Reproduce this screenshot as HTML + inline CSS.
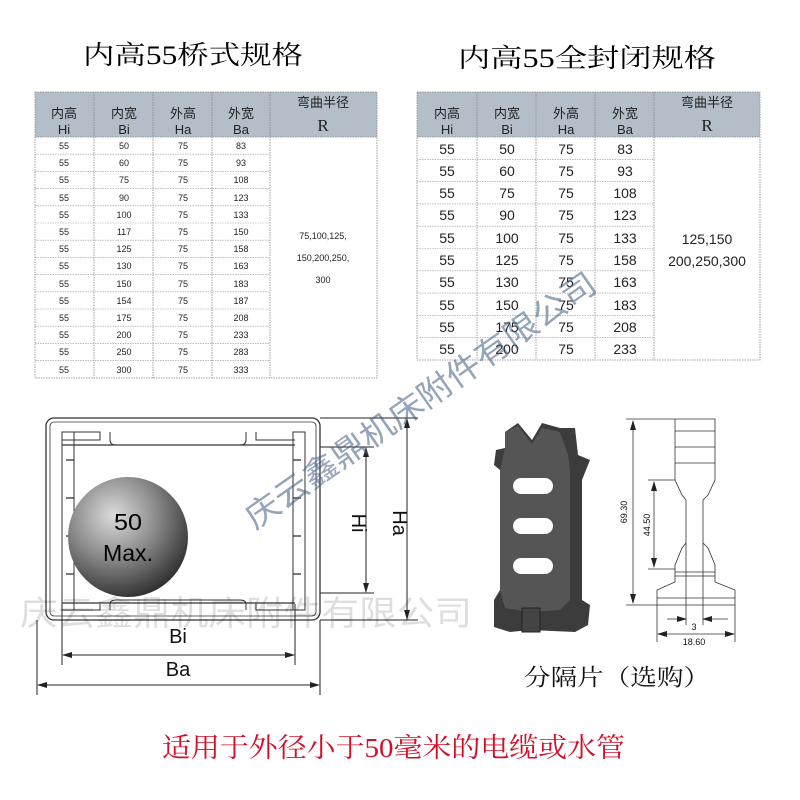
<!DOCTYPE html>
<html><head><meta charset="utf-8"><style>
html,body{margin:0;padding:0;background:#fff}
svg{display:block}
.t{font-family:"Liberation Serif","Noto Serif CJK SC",serif}
.s{font-family:"Liberation Sans","Noto Sans CJK SC",sans-serif}
</style></head><body>
<svg width="800" height="800" viewBox="0 0 800 800" xmlns="http://www.w3.org/2000/svg">
<rect width="800" height="800" fill="#fff"/>
<text class="t" x="83" y="64" font-size="26" textLength="220" lengthAdjust="spacingAndGlyphs">内高55桥式规格</text>
<text class="t" x="458" y="67" font-size="26" textLength="258" lengthAdjust="spacingAndGlyphs">内高55全封闭规格</text>

<g class="s" fill="#222">
<rect x="35" y="92" width="342" height="45" fill="#b3bec9"/>
<g stroke="#888" stroke-width="0.8" stroke-dasharray="1.5,1" fill="none">
<rect x="35" y="92" width="342" height="286"/>
<line x1="94" y1="92" x2="94" y2="378"/><line x1="153" y1="92" x2="153" y2="378"/>
<line x1="212" y1="92" x2="212" y2="378"/><line x1="270" y1="92" x2="270" y2="378"/>
<line x1="35" y1="137" x2="377" y2="137"/>
</g>
<g stroke="#999" stroke-width="0.6" stroke-dasharray="1.5,1">
<line x1="35" y1="154.2" x2="270" y2="154.2"/><line x1="35" y1="171.4" x2="270" y2="171.4"/><line x1="35" y1="188.6" x2="270" y2="188.6"/><line x1="35" y1="205.8" x2="270" y2="205.8"/><line x1="35" y1="223" x2="270" y2="223"/><line x1="35" y1="240.2" x2="270" y2="240.2"/><line x1="35" y1="257.4" x2="270" y2="257.4"/><line x1="35" y1="274.6" x2="270" y2="274.6"/><line x1="35" y1="291.8" x2="270" y2="291.8"/><line x1="35" y1="309" x2="270" y2="309"/><line x1="35" y1="326.2" x2="270" y2="326.2"/><line x1="35" y1="343.4" x2="270" y2="343.4"/><line x1="35" y1="360.6" x2="270" y2="360.6"/>
</g>
<g font-size="13" text-anchor="middle">
<text x="64" y="118">内高</text><text x="64" y="134">Hi</text>
<text x="124" y="118">内宽</text><text x="124" y="134">Bi</text>
<text x="183" y="118">外高</text><text x="183" y="134">Ha</text>
<text x="241" y="118">外宽</text><text x="241" y="134">Ba</text>
<text x="323" y="107">弯曲半径</text>
<text x="323" y="131" class="t" font-size="17">R</text>
</g>
<g font-size="9" text-anchor="middle">
<text x="64" y="149">55</text><text x="124" y="149">50</text><text x="183" y="149">75</text><text x="241" y="149">83</text>
<text x="64" y="166">55</text><text x="124" y="166">60</text><text x="183" y="166">75</text><text x="241" y="166">93</text>
<text x="64" y="183">55</text><text x="124" y="183">75</text><text x="183" y="183">75</text><text x="241" y="183">108</text>
<text x="64" y="201">55</text><text x="124" y="201">90</text><text x="183" y="201">75</text><text x="241" y="201">123</text>
<text x="64" y="218">55</text><text x="124" y="218">100</text><text x="183" y="218">75</text><text x="241" y="218">133</text>
<text x="64" y="235">55</text><text x="124" y="235">117</text><text x="183" y="235">75</text><text x="241" y="235">150</text>
<text x="64" y="252">55</text><text x="124" y="252">125</text><text x="183" y="252">75</text><text x="241" y="252">158</text>
<text x="64" y="269">55</text><text x="124" y="269">130</text><text x="183" y="269">75</text><text x="241" y="269">163</text>
<text x="64" y="287">55</text><text x="124" y="287">150</text><text x="183" y="287">75</text><text x="241" y="287">183</text>
<text x="64" y="304">55</text><text x="124" y="304">154</text><text x="183" y="304">75</text><text x="241" y="304">187</text>
<text x="64" y="321">55</text><text x="124" y="321">175</text><text x="183" y="321">75</text><text x="241" y="321">208</text>
<text x="64" y="338">55</text><text x="124" y="338">200</text><text x="183" y="338">75</text><text x="241" y="338">233</text>
<text x="64" y="355">55</text><text x="124" y="355">250</text><text x="183" y="355">75</text><text x="241" y="355">283</text>
<text x="64" y="373">55</text><text x="124" y="373">300</text><text x="183" y="373">75</text><text x="241" y="373">333</text>
<text x="323" y="239">75,100,125,</text>
<text x="323" y="261">150,200,250,</text>
<text x="323" y="283">300</text>
</g>
</g>

<g class="s" fill="#222">
<rect x="417" y="92" width="343" height="45" fill="#b3bec9"/>
<g stroke="#888" stroke-width="0.8" stroke-dasharray="1.5,1" fill="none">
<rect x="417" y="92" width="343" height="268"/>
<line x1="477" y1="92" x2="477" y2="360"/><line x1="536" y1="92" x2="536" y2="360"/>
<line x1="595" y1="92" x2="595" y2="360"/><line x1="654" y1="92" x2="654" y2="360"/>
<line x1="417" y1="137" x2="760" y2="137"/>
</g>
<g stroke="#999" stroke-width="0.6" stroke-dasharray="1.5,1">
<line x1="417" y1="159.3" x2="654" y2="159.3"/><line x1="417" y1="181.6" x2="654" y2="181.6"/><line x1="417" y1="203.9" x2="654" y2="203.9"/><line x1="417" y1="226.2" x2="654" y2="226.2"/><line x1="417" y1="248.5" x2="654" y2="248.5"/><line x1="417" y1="270.8" x2="654" y2="270.8"/><line x1="417" y1="293.1" x2="654" y2="293.1"/><line x1="417" y1="315.4" x2="654" y2="315.4"/><line x1="417" y1="337.7" x2="654" y2="337.7"/>
</g>
<g font-size="13" text-anchor="middle">
<text x="447" y="118">内高</text><text x="447" y="134">Hi</text>
<text x="507" y="118">内宽</text><text x="507" y="134">Bi</text>
<text x="566" y="118">外高</text><text x="566" y="134">Ha</text>
<text x="625" y="118">外宽</text><text x="625" y="134">Ba</text>
<text x="707" y="107">弯曲半径</text>
<text x="707" y="131" class="t" font-size="17">R</text>
</g>
<g font-size="14" text-anchor="middle">
<text x="447" y="154">55</text><text x="507" y="154">50</text><text x="566" y="154">75</text><text x="625" y="154">83</text>
<text x="447" y="176">55</text><text x="507" y="176">60</text><text x="566" y="176">75</text><text x="625" y="176">93</text>
<text x="447" y="198">55</text><text x="507" y="198">75</text><text x="566" y="198">75</text><text x="625" y="198">108</text>
<text x="447" y="220">55</text><text x="507" y="220">90</text><text x="566" y="220">75</text><text x="625" y="220">123</text>
<text x="447" y="243">55</text><text x="507" y="243">100</text><text x="566" y="243">75</text><text x="625" y="243">133</text>
<text x="447" y="265">55</text><text x="507" y="265">125</text><text x="566" y="265">75</text><text x="625" y="265">158</text>
<text x="447" y="287">55</text><text x="507" y="287">130</text><text x="566" y="287">75</text><text x="625" y="287">163</text>
<text x="447" y="310">55</text><text x="507" y="310">150</text><text x="566" y="310">75</text><text x="625" y="310">183</text>
<text x="447" y="332">55</text><text x="507" y="332">175</text><text x="566" y="332">75</text><text x="625" y="332">208</text>
<text x="447" y="354">55</text><text x="507" y="354">200</text><text x="566" y="354">75</text><text x="625" y="354">233</text>
<text x="707" y="244">125,150</text>
<text x="707" y="266">200,250,300</text>
</g>
</g>

<defs>
<radialGradient id="ball" cx="0.38" cy="0.32" r="0.72">
<stop offset="0" stop-color="#dcdcdc"/><stop offset="0.5" stop-color="#8a8a8a"/><stop offset="1" stop-color="#2e2e2e"/>
</radialGradient>
<marker id="ar" markerWidth="10" markerHeight="6" refX="9" refY="3" orient="auto" markerUnits="userSpaceOnUse"><path d="M0,0 L10,3 L0,6 z" fill="#222"/></marker>
<marker id="al" markerWidth="10" markerHeight="6" refX="1" refY="3" orient="auto" markerUnits="userSpaceOnUse"><path d="M10,0 L0,3 L10,6 z" fill="#222"/></marker>
</defs>
<g fill="none" stroke="#333" stroke-width="1.3">
<rect x="46" y="418" width="274" height="202" rx="8"/>
<rect x="50" y="422" width="266" height="194" rx="4" stroke-width="0.8"/>
<rect x="62" y="432" width="12" height="178" stroke-width="1"/>
<rect x="293" y="432" width="12" height="178" stroke-width="1"/>
<line x1="62" y1="445" x2="295" y2="445"/>
<line x1="62" y1="603" x2="295" y2="603"/>
<path d="M62,432 H100 V440 H62 M110,432 V440 Q110,445 116,445 H240 Q246,445 246,440 V432 M256,432 V440 H295" stroke-width="1"/>
<path d="M62,610 H100 V604 M110,610 V604 Q110,600 116,600 H240 Q246,600 246,604 V610 M256,604 V610 H295" stroke-width="1"/>
<line x1="66" y1="460" x2="74" y2="460"/><line x1="66" y1="498" x2="74" y2="498"/><line x1="66" y1="536" x2="74" y2="536"/><line x1="66" y1="574" x2="74" y2="574"/>
<line x1="293" y1="460" x2="301" y2="460"/><line x1="293" y1="498" x2="301" y2="498"/><line x1="293" y1="536" x2="301" y2="536"/><line x1="293" y1="574" x2="301" y2="574"/>
</g>
<circle cx="128" cy="537" r="60" fill="url(#ball)"/>
<text class="s" x="128" y="530" font-size="23" text-anchor="middle" fill="#000" textLength="28" lengthAdjust="spacingAndGlyphs">50</text>
<text class="s" x="128" y="561" font-size="23" text-anchor="middle" fill="#000" textLength="50" lengthAdjust="spacingAndGlyphs">Max.</text>
<g stroke="#222" stroke-width="1" fill="none">
<line x1="320" y1="418" x2="418" y2="418"/>
<line x1="320" y1="447" x2="374" y2="447"/>
<line x1="320" y1="593" x2="374" y2="593"/>
<line x1="320" y1="620" x2="418" y2="620"/>
<line x1="366" y1="448" x2="366" y2="592" marker-start="url(#al)" marker-end="url(#ar)"/>
<line x1="407" y1="419" x2="407" y2="619" marker-start="url(#al)" marker-end="url(#ar)"/>
<line x1="62" y1="604" x2="62" y2="665"/><line x1="295" y1="604" x2="295" y2="665"/>
<line x1="37" y1="620" x2="37" y2="695"/><line x1="320" y1="620" x2="320" y2="695"/>
<line x1="63" y1="655" x2="294" y2="655" marker-start="url(#al)" marker-end="url(#ar)"/>
<line x1="38" y1="685" x2="319" y2="685" marker-start="url(#al)" marker-end="url(#ar)"/>
</g>
<text class="s" x="178" y="643" font-size="20" text-anchor="middle" fill="#111">Bi</text>
<text class="s" x="178" y="676" font-size="20" text-anchor="middle" fill="#111">Ba</text>
<text class="s" font-size="20" fill="#111" transform="translate(352,523) rotate(90)" text-anchor="middle">Hi</text>
<text class="s" font-size="20" fill="#111" transform="translate(393,523) rotate(90)" text-anchor="middle">Ha</text>

<g>
<path d="M505,432 L518,423 L532,440 L542,423 L560,428 L575,428 L578,455 L590,460 L582,480 L582,600 L590,605 L588,625 L575,632 L530,630 L510,632 L494,627 L494,600 L500,590 L500,470 L494,465 L496,450 L505,448 Z" fill="#3c3c3c"/>
<path d="M505,448 L505,432 L518,426 L532,444 L542,428 L560,432 L568,455 L570,470 L570,600 L560,610 L530,612 L505,608 L500,590 L500,470 Z" fill="#555"/>
<rect x="513" y="478" width="40" height="16" rx="8" fill="#fff"/>
<rect x="513" y="518" width="40" height="16" rx="8" fill="#fff"/>
<rect x="513" y="558" width="40" height="16" rx="8" fill="#fff"/>
<path d="M522,632 L522,608 L540,608 L540,632 Z" fill="#444" stroke="#222"/>
</g>
<g stroke="#333" stroke-width="0.8" fill="none">
<path d="M675,419 H715 V480 L708,495 L703,500 V543 L708,548 L715,565 V582 L735,590 V605 H657 V590 L675,582 V565 L682,548 L686,543 V500 L682,495 L675,480 Z"/>
<line x1="675" y1="431" x2="715" y2="431"/><line x1="675" y1="447" x2="715" y2="447"/><line x1="675" y1="463" x2="715" y2="463"/>
<line x1="675" y1="572" x2="715" y2="572"/><line x1="675" y1="576" x2="715" y2="576"/>
<line x1="657" y1="598" x2="735" y2="598"/>
<line x1="626" y1="419" x2="675" y2="419"/><line x1="626" y1="605" x2="657" y2="605"/>
<line x1="648" y1="480" x2="675" y2="480"/><line x1="648" y1="569" x2="675" y2="569"/>
<line x1="633" y1="421" x2="633" y2="603" marker-start="url(#al)" marker-end="url(#ar)"/>
<line x1="654" y1="482" x2="654" y2="567" marker-start="url(#al)" marker-end="url(#ar)"/>
<line x1="686" y1="543" x2="686" y2="625"/><line x1="703" y1="543" x2="703" y2="625"/>
<line x1="657" y1="605" x2="657" y2="642"/><line x1="735" y1="605" x2="735" y2="642"/>
<line x1="667" y1="619" x2="686" y2="619" marker-end="url(#ar)"/>
<line x1="728" y1="619" x2="703" y2="619" marker-end="url(#ar)"/>
<line x1="658" y1="634" x2="734" y2="634" marker-start="url(#al)" marker-end="url(#ar)"/>
</g>
<g class="s" font-size="9" fill="#111">
<text transform="translate(627,512) rotate(-90)" text-anchor="middle">69.30</text>
<text transform="translate(650,525) rotate(-90)" text-anchor="middle">44.50</text>
<text x="694" y="630" text-anchor="middle">3</text>
<text x="694" y="645" text-anchor="middle">18.60</text>
</g>
<text class="t" x="524" y="685" font-size="23" textLength="186" lengthAdjust="spacingAndGlyphs" fill="#111">分隔片（选购）</text>

<text class="s" x="20" y="625" font-size="34" fill="#000" fill-opacity="0.13" textLength="452" lengthAdjust="spacingAndGlyphs">庆云鑫鼎机床附件有限公司</text>
<text class="s" font-size="32" fill="#3d5a80" fill-opacity="0.55" transform="translate(255,530) rotate(-35)" textLength="420" lengthAdjust="spacingAndGlyphs">庆云鑫鼎机床附件有限公司</text>

<text class="t" x="162" y="757" font-size="27" fill="#d0102a" textLength="463" lengthAdjust="spacingAndGlyphs">适用于外径小于50毫米的电缆或水管</text>
</svg>
</body></html>
